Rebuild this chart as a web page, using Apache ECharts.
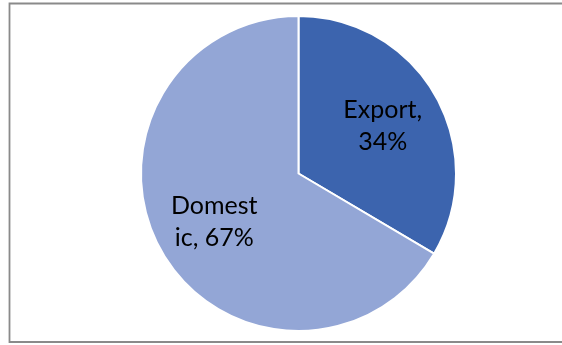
<!DOCTYPE html>
<html>
<head>
<meta charset="utf-8">
<script src="https://cdn.jsdelivr.net/npm/echarts@6/dist/echarts.min.js"></script>
<style>html,body{margin:0;padding:0;background:#fff;}#c{width:562px;height:345px;}</style>
</head>
<body>
<div id="c"></div>
<script>
const categories = ['Export', 'Domestic'];
const values = [33.5, 66.5];
const wrapAt = [7, 6];
const colors = ['#3C64AE', '#93A6D6'];

const total = values.reduce((a, b) => a + b, 0);
function labelText(p) {
  const i = p.dataIndex;
  const pct = Math.round(values[i] / total * 100);
  const full = categories[i] + ', ' + pct + '%';
  return full.slice(0, wrapAt[i]).trim() + '\n' + full.slice(wrapAt[i]).trim();
}
const data = categories.map((c, i) => ({ name: c, value: values[i] }));

const chart = echarts.init(document.getElementById('c'), null, { renderer: 'canvas' });
chart.setOption({
  animation: false,
  backgroundColor: '#fff',
  graphic: [{
    type: 'rect',
    shape: { x: 9.5, y: 3.5, width: 600, height: 338.5 },
    style: { fill: 'none', stroke: '#8a8a8a', lineWidth: 1.8 },
    silent: true
  }],
  series: [{
    type: 'pie',
    center: [298.5, 173.5],
    radius: [0, 157.5],
    startAngle: 90,
    clockwise: true,
    silent: true,
    label: { show: false },
    labelLine: { show: false },
    itemStyle: { borderColor: '#fff', borderWidth: 2 },
    color: colors,
    data: data
  }, {
    type: 'pie',
    center: [298.5, 173.5],
    radius: [0, 188],
    startAngle: 90,
    clockwise: true,
    silent: true,
    z: 3,
    itemStyle: { color: 'rgba(0,0,0,0)', borderWidth: 0 },
    labelLine: { show: false },
    label: {
      show: true,
      position: 'inside',
      formatter: labelText,
      color: '#000',
      fontFamily: 'Lato',
      fontSize: 25,
      lineHeight: 32,
      align: 'center'
    },
    data: data
  }]
});
</script>
</body>
</html>
